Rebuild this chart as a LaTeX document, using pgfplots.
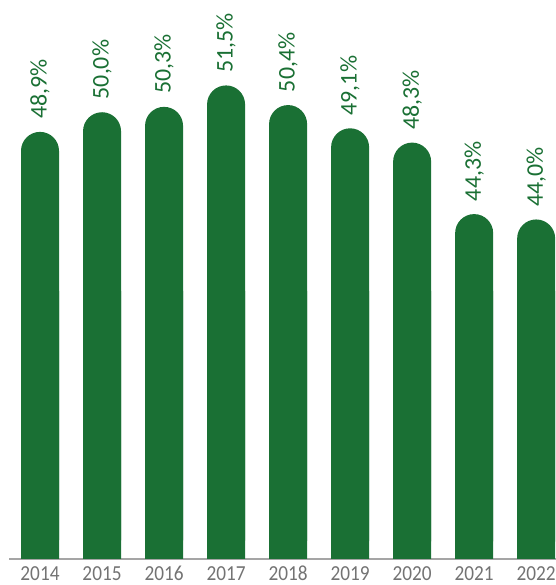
\documentclass[border=0pt]{standalone}
\usepackage{pgfplots}
\pgfplotsset{compat=1.18}
\usepackage{fontspec}
\setmainfont{Carlito}
\definecolor{bargreen}{RGB}{26,112,52}
\definecolor{axisgray}{RGB}{165,165,165}
\definecolor{labelgray}{RGB}{115,115,115}
\newcommand{\yr}[1]{\scalebox{0.9}[1]{#1}}
\begin{document}
\begin{tikzpicture}
\path[use as bounding box] (-9bp,-26bp) rectangle (547bp,559bp);
\begin{axis}[
  at={(0,0)}, anchor=south west,
  scale only axis, width=547bp, height=559bp,
  xmin=-0.5, xmax=8.32, ymin=25, ymax=56.28,
  axis x line*=bottom, axis y line=none,
  x axis line style={draw=axisgray, line width=2bp},
  xtick=data,
  xticklabels={\yr{2014},\yr{2015},\yr{2016},\yr{2017},\yr{2018},\yr{2019},\yr{2020},\yr{2021},\yr{2022}},
  major tick length=0pt,
  xticklabel style={font=\fontsize{21.5}{21.5}\selectfont, text=labelgray, inner sep=0pt, anchor=base, yshift=-21.5bp},
  ybar, bar width=38bp, bar shift=0pt,
  /pgf/number format/assume math mode=true,
]
\addplot[fill=bargreen, draw=none, y filter/.expression={min(y,40)}] coordinates {
  (0,48.9) (1,50.0) (2,50.3) (3,51.5) (4,50.4) (5,49.1) (6,48.3) (7,44.3) (8,44.0)
};
\addplot[fill=bargreen, draw=none, rounded corners=19bp,
  nodes near coords={\pgfmathprintnumber[fixed, fixed zerofill, precision=1, use comma, assume math mode=true]{\pgfplotspointmeta}\%},
  every node near coord/.append style={yshift=13bp, rotate=90, anchor=west, inner sep=0pt, outer sep=0pt, text=bargreen, font=\fontsize{24}{24}\selectfont},
] coordinates {
  (0,48.9) (1,50.0) (2,50.3) (3,51.5) (4,50.4) (5,49.1) (6,48.3) (7,44.3) (8,44.0)
};
\end{axis}
\end{tikzpicture}
\end{document}
